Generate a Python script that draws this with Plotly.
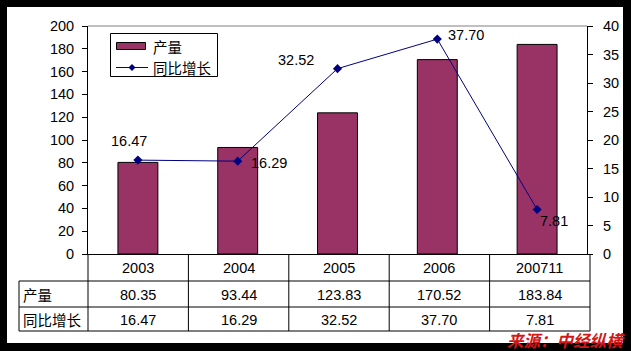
import plotly.graph_objects as go

categories = ["2003", "2004", "2005", "2006", "200711"]
production = [80.35, 93.44, 123.83, 170.52, 183.84]
growth = [16.47, 16.29, 32.52, 37.70, 7.81]
row_names = ["产量", "同比增长"]

W, H = 631, 351
L, R, T, B = 88, 587, 26, 254
PW, PH = R - L, B - T

def px(x):
    return (x - L) / PW

def py(y):
    return (B - y) / PH

FONT = "Liberation Sans, Arial, Noto Sans CJK SC, sans-serif"
CJK = "Noto Sans CJK SC, sans-serif"
BAR_COLOR = "#993366"
LINE_COLOR = "#000080"

fig = go.Figure()
fig.add_trace(go.Bar(
    x=categories, y=production, name=row_names[0], width=0.4,
    marker=dict(color=BAR_COLOR, line=dict(color="black", width=1)),
    showlegend=False,
))
fig.add_trace(go.Scatter(
    x=categories, y=growth, name=row_names[1], yaxis="y2",
    mode="lines+markers",
    line=dict(color=LINE_COLOR, width=1),
    marker=dict(symbol="diamond", size=7, color=LINE_COLOR),
    showlegend=False,
))

shapes = []
# white card on black background
shapes.append(dict(type="rect", xref="paper", yref="paper", layer="below",
                   x0=px(7), x1=px(623), y0=py(343), y1=py(7),
                   fillcolor="white", line=dict(width=0)))
# gray top border of plot area
shapes.append(dict(type="line", xref="paper", yref="paper",
                   x0=0, x1=1, y0=1, y1=1, line=dict(color="#808080", width=1)))

# table lines
row_y = [254, 281, 307, 331]
tbl_left = 19
tbl_right = 590
for yy in row_y[1:]:
    shapes.append(dict(type="line", xref="paper", yref="paper",
                       x0=px(tbl_left), x1=px(tbl_right), y0=py(yy), y1=py(yy),
                       line=dict(color="black", width=1)))
shapes.append(dict(type="line", xref="paper", yref="paper",
                   x0=px(tbl_left), x1=px(tbl_left), y0=py(281), y1=py(331),
                   line=dict(color="black", width=1)))
for i in range(len(categories) + 1):
    xx = L + (tbl_right - L) * i / len(categories)
    shapes.append(dict(type="line", xref="paper", yref="paper",
                       x0=px(xx), x1=px(xx), y0=py(254), y1=py(331),
                       line=dict(color="black", width=1)))

# manual legend
shapes.append(dict(type="rect", xref="paper", yref="paper",
                   x0=px(110.5), x1=px(217.5), y0=py(76.5), y1=py(33.5),
                   fillcolor="white", line=dict(color="black", width=1)))
shapes.append(dict(type="rect", xref="paper", yref="paper",
                   x0=px(116.5), x1=px(145.5), y0=py(49.5), y1=py(42.5),
                   fillcolor=BAR_COLOR, line=dict(color="black", width=1)))
shapes.append(dict(type="line", xref="paper", yref="paper",
                   x0=px(116), x1=px(148), y0=py(67.5), y1=py(67.5),
                   line=dict(color=LINE_COLOR, width=1)))
dcx, dcy, dr = 132, 67.5, 3.5
shapes.append(dict(type="path", xref="paper", yref="paper",
                   path=f"M {px(dcx)},{py(dcy - dr)} L {px(dcx + dr)},{py(dcy)} L {px(dcx)},{py(dcy + dr)} L {px(dcx - dr)},{py(dcy)} Z",
                   fillcolor=LINE_COLOR, line=dict(color=LINE_COLOR, width=0)))

annotations = []
tf = dict(family=FONT, size=14.5, color="black")
col_w = (tbl_right - L) / len(categories)
for i, c in enumerate(categories):
    cx = px(L + col_w * (i + 0.5))
    annotations.append(dict(xref="paper", yref="paper", x=cx, y=py(267.5), text=c,
                            showarrow=False, font=tf, xanchor="center", yanchor="middle"))
    annotations.append(dict(xref="paper", yref="paper", x=cx, y=py(294.5), text=f"{production[i]:.2f}",
                            showarrow=False, font=tf, xanchor="center", yanchor="middle"))
    annotations.append(dict(xref="paper", yref="paper", x=cx, y=py(319.5), text=f"{growth[i]:.2f}",
                            showarrow=False, font=tf, xanchor="center", yanchor="middle"))
for name, yy in zip(row_names, [294, 319]):
    annotations.append(dict(xref="paper", yref="paper", x=px(21), y=py(yy), text=name,
                            showarrow=False, font=dict(family=CJK, size=14.5, color="black"),
                            xanchor="left", yanchor="middle"))

# legend labels
for name, yy in zip(row_names, [46, 67.5]):
    annotations.append(dict(xref="paper", yref="paper", x=px(151), y=py(yy), text=name,
                            showarrow=False, font=dict(family=CJK, size=14.5, color="black"),
                            xanchor="left", yanchor="middle"))

# line data labels (offsets are style)
label_offsets = [(-9, 19, "center"), (11, -2, "left"), (-22, 9, "right"), (9, 4, "left"), (1, -12, "left")]
for i, (g, (dx, dy, anc)) in enumerate(zip(growth, label_offsets)):
    annotations.append(dict(x=i, y=g, xref="x", yref="y2", text=f"{g:.2f}", showarrow=False,
                            xanchor=anc, yanchor="middle", xshift=dx, yshift=dy, font=tf))

annotations.append(dict(xref="paper", yref="paper", x=px(627), y=py(339.5), text="<b><i>来源：中经纵横</i></b>",
                        showarrow=False, xanchor="right", yanchor="middle",
                        font=dict(family=CJK, size=16.5, color="#D01818")))

fig.update_layout(
    width=W, height=H,
    margin=dict(l=L, r=W - R, t=T, b=H - B, pad=0),
    paper_bgcolor="black", plot_bgcolor="white",
    font=dict(family=FONT, size=14.5, color="black"),
    showlegend=False,
    xaxis=dict(type="category", range=[-0.5, 4.5], showticklabels=False, ticks="",
               showline=True, linecolor="black", linewidth=1, showgrid=False, zeroline=False),
    yaxis=dict(range=[0, 200], dtick=20, ticks="outside", ticklen=5, tickcolor="black",
               showline=True, linecolor="black", linewidth=1, showgrid=False, zeroline=False,
               tickfont=tf, ticklabelstandoff=5),
    yaxis2=dict(range=[0, 40], dtick=5, overlaying="y", side="right", ticks="outside",
                ticklen=5, tickcolor="black", showline=True, linecolor="black", linewidth=1,
                showgrid=False, zeroline=False, tickfont=tf, ticklabelstandoff=7),
    shapes=shapes, annotations=annotations,
)

fig.write_html("out.html")
